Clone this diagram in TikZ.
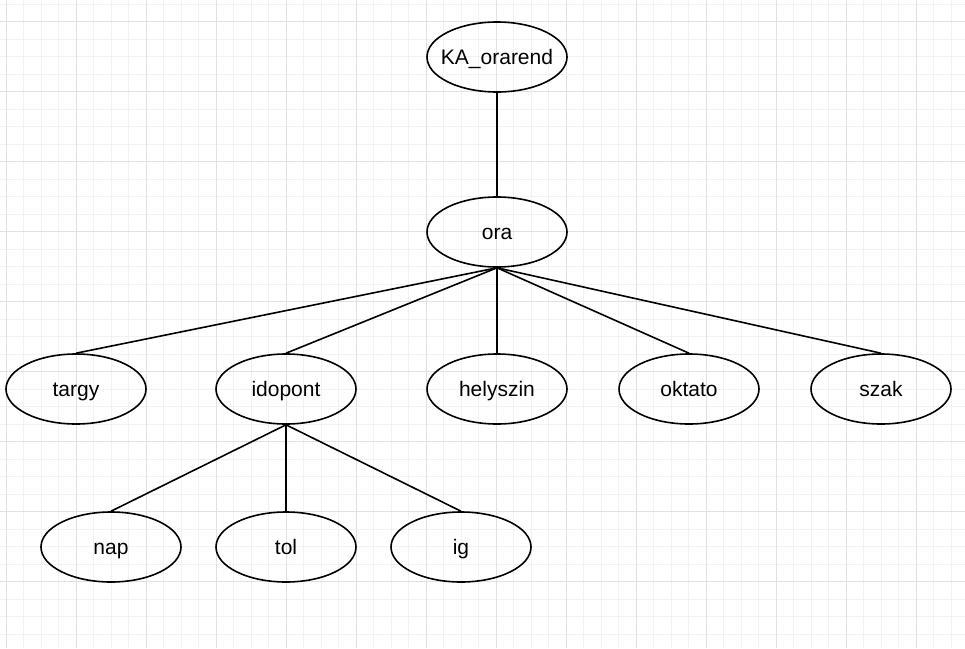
\documentclass[tikz,border=0pt]{standalone}
\usepackage{fontspec}
\setmainfont{Liberation Sans}
\usetikzlibrary{shapes.geometric}

\definecolor{gridminor}{RGB}{242,242,242}
\definecolor{gridmajor}{RGB}{225,225,225}

\begin{document}
\begin{tikzpicture}[x=1pt, y=-1pt, line width=1.6pt,
    attr/.style={draw, ellipse, minimum width=140pt, minimum height=70pt,
        inner xsep=-10pt, inner ysep=0pt, text height=19.8pt, text depth=4pt,
        font=\fontsize{21}{25}\selectfont}]

    % 1. Background grid
    \useasboundingbox (0,0) rectangle (965,648);
    \fill[white] (0,0) rectangle (965,648);
    \foreach \i in {0,...,55} \draw[gridminor, line width=0.8pt] (6+17.5*\i,0) -- (6+17.5*\i,648);
    \foreach \j in {0,...,36} \draw[gridminor, line width=0.8pt] (0,4+17.5*\j) -- (965,4+17.5*\j);
    \foreach \i in {0,...,13} \draw[gridmajor, line width=0.8pt] (6+70*\i,0) -- (6+70*\i,648);
    \foreach \j in {0,...,8} \draw[gridmajor, line width=0.8pt] (0,21.5+70*\j) -- (965,21.5+70*\j);

    % 2. Entity and attributes
    \node[attr] (root) at (497,57) {KA\_orarend};
    \node[attr] (ora) at (497,232) {ora};

    \node[attr] (targy) at (76,389) {targy};
    \node[attr] (idopont) at (286,389) {idopont};
    \node[attr] (helyszin) at (497,389) {helyszin};
    \node[attr] (oktato) at (689,389) {oktato};
    \node[attr] (szak) at (881,389) {szak};

    \node[attr] (nap) at (111,547) {nap};
    \node[attr] (tol) at (286,547) {tol};
    \node[attr] (ig) at (461,547) {ig};

    % 3. Connections
    \draw (root.south) -- (ora.north);
    \foreach \c in {targy, idopont, helyszin, oktato, szak}
        \draw (ora.south) -- (\c.north);
    \foreach \c in {nap, tol, ig}
        \draw (idopont.south) -- (\c.north);

\end{tikzpicture}
\end{document}
